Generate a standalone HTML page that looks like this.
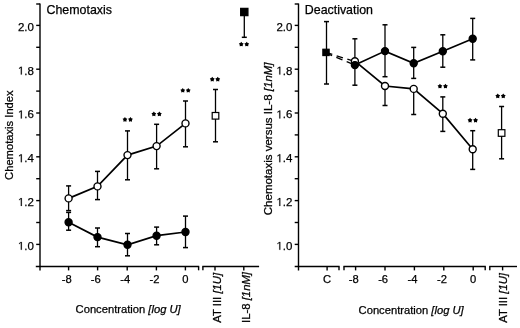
<!DOCTYPE html><html><head><meta charset="utf-8"><style>html,body{margin:0;padding:0;background:#fff;width:520px;height:328px;overflow:hidden}svg{display:block;font-family:"Liberation Sans", sans-serif;filter:grayscale(1)} text{stroke:#000;stroke-width:0.25px;fill:#000}</style></head><body><svg width="520" height="328" viewBox="0 0 520 328"><rect width="520" height="328" fill="#fff"/><line x1="40.0" y1="3.6" x2="40.0" y2="270.4" stroke="#000" stroke-width="1.4"/><line x1="36.2" y1="4" x2="40.0" y2="4" stroke="#000" stroke-width="1.4"/><line x1="36.2" y1="47.30000000000002" x2="40.0" y2="47.30000000000002" stroke="#000" stroke-width="1.4"/><line x1="36.2" y1="91.1" x2="40.0" y2="91.1" stroke="#000" stroke-width="1.4"/><line x1="36.2" y1="134.9" x2="40.0" y2="134.9" stroke="#000" stroke-width="1.4"/><line x1="36.2" y1="178.7" x2="40.0" y2="178.7" stroke="#000" stroke-width="1.4"/><line x1="36.2" y1="222.5" x2="40.0" y2="222.5" stroke="#000" stroke-width="1.4"/><line x1="36.2" y1="25.4" x2="40.0" y2="25.4" stroke="#000" stroke-width="1.4"/><text x="33.9" y="30.799999999999997" text-anchor="end" font-size="11.5">2.0</text><line x1="36.2" y1="69.19999999999999" x2="40.0" y2="69.19999999999999" stroke="#000" stroke-width="1.4"/><text x="33.9" y="74.6" text-anchor="end" font-size="11.5">.8</text><path d="M20.80,74.60 L20.80,67.65 L19.02,68.93 L19.02,67.98 L20.89,66.69 L21.82,66.69 L21.82,74.60 Z" fill="#000" stroke="#000" stroke-width="0.15"/><line x1="36.2" y1="112.99999999999997" x2="40.0" y2="112.99999999999997" stroke="#000" stroke-width="1.4"/><text x="33.9" y="118.39999999999998" text-anchor="end" font-size="11.5">.6</text><path d="M20.80,118.40 L20.80,111.45 L19.02,112.73 L19.02,111.78 L20.89,110.49 L21.82,110.49 L21.82,118.40 Z" fill="#000" stroke="#000" stroke-width="0.15"/><line x1="36.2" y1="156.8" x2="40.0" y2="156.8" stroke="#000" stroke-width="1.4"/><text x="33.9" y="162.20000000000002" text-anchor="end" font-size="11.5">.4</text><path d="M20.80,162.20 L20.80,155.25 L19.02,156.53 L19.02,155.58 L20.89,154.29 L21.82,154.29 L21.82,162.20 Z" fill="#000" stroke="#000" stroke-width="0.15"/><line x1="36.2" y1="200.60000000000002" x2="40.0" y2="200.60000000000002" stroke="#000" stroke-width="1.4"/><text x="33.9" y="206.00000000000003" text-anchor="end" font-size="11.5">.2</text><path d="M20.80,206.00 L20.80,199.05 L19.02,200.33 L19.02,199.38 L20.89,198.09 L21.82,198.09 L21.82,206.00 Z" fill="#000" stroke="#000" stroke-width="0.15"/><line x1="36.2" y1="244.4" x2="40.0" y2="244.4" stroke="#000" stroke-width="1.4"/><text x="33.9" y="249.8" text-anchor="end" font-size="11.5">.0</text><path d="M20.80,249.80 L20.80,242.85 L19.02,244.13 L19.02,243.18 L20.89,241.89 L21.82,241.89 L21.82,249.80 Z" fill="#000" stroke="#000" stroke-width="0.15"/><line x1="35.8" y1="266.5" x2="199.2" y2="266.5" stroke="#000" stroke-width="1.4"/><line x1="198.6" y1="266.5" x2="198.6" y2="270.3" stroke="#000" stroke-width="1.4"/><line x1="68.6" y1="266.5" x2="68.6" y2="270.4" stroke="#000" stroke-width="1.4"/><line x1="97.6" y1="266.5" x2="97.6" y2="270.4" stroke="#000" stroke-width="1.4"/><line x1="127.2" y1="266.5" x2="127.2" y2="270.4" stroke="#000" stroke-width="1.4"/><line x1="156.4" y1="266.5" x2="156.4" y2="270.4" stroke="#000" stroke-width="1.4"/><line x1="185.4" y1="266.5" x2="185.4" y2="270.4" stroke="#000" stroke-width="1.4"/><line x1="202.3" y1="266.5" x2="259.1" y2="266.5" stroke="#000" stroke-width="1.4"/><line x1="202.9" y1="266.5" x2="202.9" y2="270.3" stroke="#000" stroke-width="1.4"/><line x1="215.0" y1="266.5" x2="215.0" y2="270.4" stroke="#000" stroke-width="1.4"/><line x1="243.8" y1="266.5" x2="243.8" y2="270.4" stroke="#000" stroke-width="1.4"/><text x="71.69999999999999" y="282.8" text-anchor="end" font-size="11.2">-8</text><text x="100.69999999999999" y="282.8" text-anchor="end" font-size="11.2">-6</text><text x="130.3" y="282.8" text-anchor="end" font-size="11.2">-4</text><text x="159.5" y="282.8" text-anchor="end" font-size="11.2">-2</text><text x="185.4" y="282.8" text-anchor="middle" font-size="11.2">0</text><text x="46.5" y="13.5" font-size="12.4">Chemotaxis</text><text x="75.6" y="313.1" font-size="11.2">Concentration <tspan font-style="italic">[log U]</tspan></text><text transform="translate(12.7,179.9) rotate(-90)" font-size="11.2">Chemotaxis Index</text><text transform="translate(220.9,322.7) rotate(-90)" font-size="11.3">AT III <tspan font-style="italic">[1U]</tspan></text><text transform="translate(250.0,322.9) rotate(-90)" font-size="11.3">IL-8 <tspan font-style="italic">[1nM]</tspan></text><line x1="68.6" y1="185.9" x2="68.6" y2="210.6" stroke="#000" stroke-width="1.3"/><line x1="66.1" y1="185.9" x2="71.1" y2="185.9" stroke="#000" stroke-width="1.5"/><line x1="66.1" y1="210.6" x2="71.1" y2="210.6" stroke="#000" stroke-width="1.5"/><line x1="97.5" y1="171.4" x2="97.5" y2="199.6" stroke="#000" stroke-width="1.3"/><line x1="95.0" y1="171.4" x2="100.0" y2="171.4" stroke="#000" stroke-width="1.5"/><line x1="95.0" y1="199.6" x2="100.0" y2="199.6" stroke="#000" stroke-width="1.5"/><line x1="127.5" y1="130.9" x2="127.5" y2="179.8" stroke="#000" stroke-width="1.3"/><line x1="125.0" y1="130.9" x2="130.0" y2="130.9" stroke="#000" stroke-width="1.5"/><line x1="125.0" y1="179.8" x2="130.0" y2="179.8" stroke="#000" stroke-width="1.5"/><line x1="156.6" y1="124.3" x2="156.6" y2="168.8" stroke="#000" stroke-width="1.3"/><line x1="154.1" y1="124.3" x2="159.1" y2="124.3" stroke="#000" stroke-width="1.5"/><line x1="154.1" y1="168.8" x2="159.1" y2="168.8" stroke="#000" stroke-width="1.5"/><line x1="185.5" y1="101" x2="185.5" y2="146.8" stroke="#000" stroke-width="1.3"/><line x1="183.0" y1="101" x2="188.0" y2="101" stroke="#000" stroke-width="1.5"/><line x1="183.0" y1="146.8" x2="188.0" y2="146.8" stroke="#000" stroke-width="1.5"/><line x1="68.6" y1="212.4" x2="68.6" y2="230.2" stroke="#000" stroke-width="1.3"/><line x1="66.1" y1="212.4" x2="71.1" y2="212.4" stroke="#000" stroke-width="1.5"/><line x1="66.1" y1="230.2" x2="71.1" y2="230.2" stroke="#000" stroke-width="1.5"/><line x1="97.5" y1="228" x2="97.5" y2="246.7" stroke="#000" stroke-width="1.3"/><line x1="95.0" y1="228" x2="100.0" y2="228" stroke="#000" stroke-width="1.5"/><line x1="95.0" y1="246.7" x2="100.0" y2="246.7" stroke="#000" stroke-width="1.5"/><line x1="127.5" y1="233.5" x2="127.5" y2="255.8" stroke="#000" stroke-width="1.3"/><line x1="125.0" y1="233.5" x2="130.0" y2="233.5" stroke="#000" stroke-width="1.5"/><line x1="125.0" y1="255.8" x2="130.0" y2="255.8" stroke="#000" stroke-width="1.5"/><line x1="156.6" y1="227.1" x2="156.6" y2="244.8" stroke="#000" stroke-width="1.3"/><line x1="154.1" y1="227.1" x2="159.1" y2="227.1" stroke="#000" stroke-width="1.5"/><line x1="154.1" y1="244.8" x2="159.1" y2="244.8" stroke="#000" stroke-width="1.5"/><line x1="185.5" y1="216.1" x2="185.5" y2="247.6" stroke="#000" stroke-width="1.3"/><line x1="183.0" y1="216.1" x2="188.0" y2="216.1" stroke="#000" stroke-width="1.5"/><line x1="183.0" y1="247.6" x2="188.0" y2="247.6" stroke="#000" stroke-width="1.5"/><polyline points="68.6,198.4 97.5,186.4 127.5,155.1 156.6,146.1 185.5,123.4" fill="none" stroke="#000" stroke-width="1.7"/><polyline points="68.6,222.3 97.5,237.1 127.5,244.8 156.6,235.7 185.5,232" fill="none" stroke="#000" stroke-width="1.7"/><circle cx="68.6" cy="198.4" r="3.5" fill="#fff" stroke="#000" stroke-width="1.4"/><circle cx="97.5" cy="186.4" r="3.5" fill="#fff" stroke="#000" stroke-width="1.4"/><circle cx="127.5" cy="155.1" r="3.5" fill="#fff" stroke="#000" stroke-width="1.4"/><circle cx="156.6" cy="146.1" r="3.5" fill="#fff" stroke="#000" stroke-width="1.4"/><circle cx="185.5" cy="123.4" r="3.5" fill="#fff" stroke="#000" stroke-width="1.4"/><circle cx="68.6" cy="222.3" r="3.5" fill="#000" stroke="#000" stroke-width="1.4"/><circle cx="97.5" cy="237.1" r="3.5" fill="#000" stroke="#000" stroke-width="1.4"/><circle cx="127.5" cy="244.8" r="3.5" fill="#000" stroke="#000" stroke-width="1.4"/><circle cx="156.6" cy="235.7" r="3.5" fill="#000" stroke="#000" stroke-width="1.4"/><circle cx="185.5" cy="232" r="3.5" fill="#000" stroke="#000" stroke-width="1.4"/><line x1="215.5" y1="89.5" x2="215.5" y2="141.8" stroke="#000" stroke-width="1.3"/><line x1="213.0" y1="89.5" x2="218.0" y2="89.5" stroke="#000" stroke-width="1.5"/><line x1="213.0" y1="141.8" x2="218.0" y2="141.8" stroke="#000" stroke-width="1.5"/><rect x="212.2" y="112.5" width="6.6" height="6.6" fill="#fff" stroke="#000" stroke-width="1.2"/><line x1="244.3" y1="12" x2="244.3" y2="37.3" stroke="#000" stroke-width="1.3"/><line x1="241.8" y1="37.3" x2="246.8" y2="37.3" stroke="#000" stroke-width="1.5"/><rect x="240.65" y="8.35" width="7.3" height="7.3" fill="#000" stroke="#000" stroke-width="1.2"/><polygon points="124.95,117.05 125.88,118.32 127.38,118.81 126.45,120.09 126.45,121.66 124.95,121.18 123.45,121.66 123.45,120.09 122.52,118.81 124.02,118.32" fill="#000"/><polygon points="130.45,117.05 131.38,118.32 132.88,118.81 131.95,120.09 131.95,121.66 130.45,121.18 128.95,121.66 128.95,120.09 128.02,118.81 129.52,118.32" fill="#000"/><polygon points="153.85,111.55 154.78,112.82 156.28,113.31 155.35,114.59 155.35,116.16 153.85,115.68 152.35,116.16 152.35,114.59 151.42,113.31 152.92,112.82" fill="#000"/><polygon points="159.35,111.55 160.28,112.82 161.78,113.31 160.85,114.59 160.85,116.16 159.35,115.68 157.85,116.16 157.85,114.59 156.92,113.31 158.42,112.82" fill="#000"/><polygon points="182.75,87.95 183.68,89.22 185.18,89.71 184.25,90.99 184.25,92.56 182.75,92.08 181.25,92.56 181.25,90.99 180.32,89.71 181.82,89.22" fill="#000"/><polygon points="188.25,87.95 189.18,89.22 190.68,89.71 189.75,90.99 189.75,92.56 188.25,92.08 186.75,92.56 186.75,90.99 185.82,89.71 187.32,89.22" fill="#000"/><polygon points="212.25,76.85 213.18,78.12 214.68,78.61 213.75,79.89 213.75,81.46 212.25,80.98 210.75,81.46 210.75,79.89 209.82,78.61 211.32,78.12" fill="#000"/><polygon points="217.75,76.85 218.68,78.12 220.18,78.61 219.25,79.89 219.25,81.46 217.75,80.98 216.25,81.46 216.25,79.89 215.32,78.61 216.82,78.12" fill="#000"/><polygon points="241.25,41.75 242.18,43.02 243.68,43.51 242.75,44.79 242.75,46.36 241.25,45.88 239.75,46.36 239.75,44.79 238.82,43.51 240.32,43.02" fill="#000"/><polygon points="246.75,41.75 247.68,43.02 249.18,43.51 248.25,44.79 248.25,46.36 246.75,45.88 245.25,46.36 245.25,44.79 244.32,43.51 245.82,43.02" fill="#000"/><line x1="298.5" y1="3.6" x2="298.5" y2="270.4" stroke="#000" stroke-width="1.4"/><line x1="294.7" y1="4" x2="298.5" y2="4" stroke="#000" stroke-width="1.4"/><line x1="294.7" y1="47.30000000000002" x2="298.5" y2="47.30000000000002" stroke="#000" stroke-width="1.4"/><line x1="294.7" y1="91.1" x2="298.5" y2="91.1" stroke="#000" stroke-width="1.4"/><line x1="294.7" y1="134.9" x2="298.5" y2="134.9" stroke="#000" stroke-width="1.4"/><line x1="294.7" y1="178.7" x2="298.5" y2="178.7" stroke="#000" stroke-width="1.4"/><line x1="294.7" y1="222.5" x2="298.5" y2="222.5" stroke="#000" stroke-width="1.4"/><line x1="294.7" y1="25.4" x2="298.5" y2="25.4" stroke="#000" stroke-width="1.4"/><text x="292.4" y="30.799999999999997" text-anchor="end" font-size="11.5">2.0</text><line x1="294.7" y1="69.19999999999999" x2="298.5" y2="69.19999999999999" stroke="#000" stroke-width="1.4"/><text x="292.4" y="74.6" text-anchor="end" font-size="11.5">.8</text><path d="M279.30,74.60 L279.30,67.65 L277.52,68.93 L277.52,67.98 L279.39,66.69 L280.32,66.69 L280.32,74.60 Z" fill="#000" stroke="#000" stroke-width="0.15"/><line x1="294.7" y1="112.99999999999997" x2="298.5" y2="112.99999999999997" stroke="#000" stroke-width="1.4"/><text x="292.4" y="118.39999999999998" text-anchor="end" font-size="11.5">.6</text><path d="M279.30,118.40 L279.30,111.45 L277.52,112.73 L277.52,111.78 L279.39,110.49 L280.32,110.49 L280.32,118.40 Z" fill="#000" stroke="#000" stroke-width="0.15"/><line x1="294.7" y1="156.8" x2="298.5" y2="156.8" stroke="#000" stroke-width="1.4"/><text x="292.4" y="162.20000000000002" text-anchor="end" font-size="11.5">.4</text><path d="M279.30,162.20 L279.30,155.25 L277.52,156.53 L277.52,155.58 L279.39,154.29 L280.32,154.29 L280.32,162.20 Z" fill="#000" stroke="#000" stroke-width="0.15"/><line x1="294.7" y1="200.60000000000002" x2="298.5" y2="200.60000000000002" stroke="#000" stroke-width="1.4"/><text x="292.4" y="206.00000000000003" text-anchor="end" font-size="11.5">.2</text><path d="M279.30,206.00 L279.30,199.05 L277.52,200.33 L277.52,199.38 L279.39,198.09 L280.32,198.09 L280.32,206.00 Z" fill="#000" stroke="#000" stroke-width="0.15"/><line x1="294.7" y1="244.4" x2="298.5" y2="244.4" stroke="#000" stroke-width="1.4"/><text x="292.4" y="249.8" text-anchor="end" font-size="11.5">.0</text><path d="M279.30,249.80 L279.30,242.85 L277.52,244.13 L277.52,243.18 L279.39,241.89 L280.32,241.89 L280.32,249.80 Z" fill="#000" stroke="#000" stroke-width="0.15"/><line x1="294.7" y1="266.5" x2="339.6" y2="266.5" stroke="#000" stroke-width="1.4"/><line x1="339.0" y1="266.5" x2="339.0" y2="270.3" stroke="#000" stroke-width="1.4"/><line x1="327.1" y1="266.5" x2="327.1" y2="270.4" stroke="#000" stroke-width="1.4"/><line x1="343.4" y1="266.5" x2="485.8" y2="266.5" stroke="#000" stroke-width="1.4"/><line x1="344.0" y1="266.5" x2="344.0" y2="270.3" stroke="#000" stroke-width="1.4"/><line x1="485.2" y1="266.5" x2="485.2" y2="270.3" stroke="#000" stroke-width="1.4"/><line x1="355.6" y1="266.5" x2="355.6" y2="270.4" stroke="#000" stroke-width="1.4"/><line x1="385.0" y1="266.5" x2="385.0" y2="270.4" stroke="#000" stroke-width="1.4"/><line x1="414.4" y1="266.5" x2="414.4" y2="270.4" stroke="#000" stroke-width="1.4"/><line x1="443.8" y1="266.5" x2="443.8" y2="270.4" stroke="#000" stroke-width="1.4"/><line x1="473.2" y1="266.5" x2="473.2" y2="270.4" stroke="#000" stroke-width="1.4"/><line x1="489.2" y1="266.5" x2="517.0" y2="266.5" stroke="#000" stroke-width="1.4"/><line x1="489.8" y1="266.5" x2="489.8" y2="270.3" stroke="#000" stroke-width="1.4"/><line x1="502.6" y1="266.5" x2="502.6" y2="270.4" stroke="#000" stroke-width="1.4"/><text x="327.0" y="282.8" text-anchor="middle" font-size="11.2">C</text><text x="358.70000000000005" y="282.8" text-anchor="end" font-size="11.2">-8</text><text x="388.1" y="282.8" text-anchor="end" font-size="11.2">-6</text><text x="417.5" y="282.8" text-anchor="end" font-size="11.2">-4</text><text x="446.90000000000003" y="282.8" text-anchor="end" font-size="11.2">-2</text><text x="473.2" y="282.8" text-anchor="middle" font-size="11.2">0</text><text x="304.8" y="13.5" font-size="12.4">Deactivation</text><text x="358.6" y="314.3" font-size="11.2">Concentration <tspan font-style="italic">[log U]</tspan></text><text transform="translate(272.3,215.2) rotate(-90)" font-size="11.5">Chemotaxis versus IL-8 <tspan font-style="italic">[1nM]</tspan></text><text transform="translate(507.4,322.8) rotate(-90)" font-size="11.3">AT III <tspan font-style="italic">[1U]</tspan></text><line x1="326.5" y1="21.6" x2="326.5" y2="84" stroke="#000" stroke-width="1.3"/><line x1="324.0" y1="21.6" x2="329.0" y2="21.6" stroke="#000" stroke-width="1.5"/><line x1="324.0" y1="84" x2="329.0" y2="84" stroke="#000" stroke-width="1.5"/><line x1="354.9" y1="38.8" x2="354.9" y2="85.2" stroke="#000" stroke-width="1.3"/><line x1="352.4" y1="38.8" x2="357.4" y2="38.8" stroke="#000" stroke-width="1.5"/><line x1="352.4" y1="85.2" x2="357.4" y2="85.2" stroke="#000" stroke-width="1.5"/><line x1="385.0" y1="24.8" x2="385.0" y2="76.7" stroke="#000" stroke-width="1.3"/><line x1="382.5" y1="24.8" x2="387.5" y2="24.8" stroke="#000" stroke-width="1.5"/><line x1="382.5" y1="76.7" x2="387.5" y2="76.7" stroke="#000" stroke-width="1.5"/><line x1="413.7" y1="47.4" x2="413.7" y2="78.4" stroke="#000" stroke-width="1.3"/><line x1="411.2" y1="47.4" x2="416.2" y2="47.4" stroke="#000" stroke-width="1.5"/><line x1="411.2" y1="78.4" x2="416.2" y2="78.4" stroke="#000" stroke-width="1.5"/><line x1="442.8" y1="34.8" x2="442.8" y2="67.2" stroke="#000" stroke-width="1.3"/><line x1="440.3" y1="34.8" x2="445.3" y2="34.8" stroke="#000" stroke-width="1.5"/><line x1="440.3" y1="67.2" x2="445.3" y2="67.2" stroke="#000" stroke-width="1.5"/><line x1="472.7" y1="18.4" x2="472.7" y2="59.9" stroke="#000" stroke-width="1.3"/><line x1="470.2" y1="18.4" x2="475.2" y2="18.4" stroke="#000" stroke-width="1.5"/><line x1="470.2" y1="59.9" x2="475.2" y2="59.9" stroke="#000" stroke-width="1.5"/><line x1="385.0" y1="86" x2="385.0" y2="105.5" stroke="#000" stroke-width="1.3"/><line x1="382.5" y1="105.5" x2="387.5" y2="105.5" stroke="#000" stroke-width="1.5"/><line x1="413.7" y1="88.9" x2="413.7" y2="114.5" stroke="#000" stroke-width="1.3"/><line x1="411.2" y1="114.5" x2="416.2" y2="114.5" stroke="#000" stroke-width="1.5"/><line x1="442.8" y1="96.9" x2="442.8" y2="131.4" stroke="#000" stroke-width="1.3"/><line x1="440.3" y1="96.9" x2="445.3" y2="96.9" stroke="#000" stroke-width="1.5"/><line x1="440.3" y1="131.4" x2="445.3" y2="131.4" stroke="#000" stroke-width="1.5"/><line x1="472.7" y1="130.7" x2="472.7" y2="169.4" stroke="#000" stroke-width="1.3"/><line x1="470.2" y1="130.7" x2="475.2" y2="130.7" stroke="#000" stroke-width="1.5"/><line x1="470.2" y1="169.4" x2="475.2" y2="169.4" stroke="#000" stroke-width="1.5"/><g stroke="#000" stroke-width="1.3" stroke-dasharray="6.6,4.6"><line x1="326" y1="52.4" x2="354.9" y2="61.6"/><line x1="326" y1="53" x2="354.9" y2="65.1"/></g><polyline points="354.9,65.1 385.0,51.1 413.7,63.3 442.8,51.3 472.7,38.7" fill="none" stroke="#000" stroke-width="1.7"/><polyline points="354.9,61.2 385.0,86 413.7,88.9 442.8,113.7 472.7,149.3" fill="none" stroke="#000" stroke-width="1.7"/><rect x="322.85" y="49.25" width="6.3" height="6.3" fill="#000" stroke="#000" stroke-width="1.2"/><circle cx="354.9" cy="61.2" r="3.5" fill="#fff" stroke="#000" stroke-width="1.4"/><circle cx="385.0" cy="86" r="3.5" fill="#fff" stroke="#000" stroke-width="1.4"/><circle cx="413.7" cy="88.9" r="3.5" fill="#fff" stroke="#000" stroke-width="1.4"/><circle cx="442.8" cy="113.7" r="3.5" fill="#fff" stroke="#000" stroke-width="1.4"/><circle cx="472.7" cy="149.3" r="3.5" fill="#fff" stroke="#000" stroke-width="1.4"/><circle cx="354.9" cy="65.1" r="3.5" fill="#000" stroke="#000" stroke-width="1.4"/><circle cx="385.0" cy="51.1" r="3.5" fill="#000" stroke="#000" stroke-width="1.4"/><circle cx="413.7" cy="63.3" r="3.5" fill="#000" stroke="#000" stroke-width="1.4"/><circle cx="442.8" cy="51.3" r="3.5" fill="#000" stroke="#000" stroke-width="1.4"/><circle cx="472.7" cy="38.7" r="3.5" fill="#000" stroke="#000" stroke-width="1.4"/><line x1="501.6" y1="106.5" x2="501.6" y2="158.8" stroke="#000" stroke-width="1.3"/><line x1="499.1" y1="106.5" x2="504.1" y2="106.5" stroke="#000" stroke-width="1.5"/><line x1="499.1" y1="158.8" x2="504.1" y2="158.8" stroke="#000" stroke-width="1.5"/><rect x="498.3" y="129.7" width="6.6" height="6.6" fill="#fff" stroke="#000" stroke-width="1.2"/><polygon points="439.95,83.75 440.88,85.02 442.38,85.51 441.45,86.79 441.45,88.36 439.95,87.88 438.45,88.36 438.45,86.79 437.52,85.51 439.02,85.02" fill="#000"/><polygon points="445.45,83.75 446.38,85.02 447.88,85.51 446.95,86.79 446.95,88.36 445.45,87.88 443.95,88.36 443.95,86.79 443.02,85.51 444.52,85.02" fill="#000"/><polygon points="470.05,117.85 470.98,119.12 472.48,119.61 471.55,120.89 471.55,122.46 470.05,121.98 468.55,122.46 468.55,120.89 467.62,119.61 469.12,119.12" fill="#000"/><polygon points="475.55,117.85 476.48,119.12 477.98,119.61 477.05,120.89 477.05,122.46 475.55,121.98 474.05,122.46 474.05,120.89 473.12,119.61 474.62,119.12" fill="#000"/><polygon points="497.75,93.55 498.68,94.82 500.18,95.31 499.25,96.59 499.25,98.16 497.75,97.68 496.25,98.16 496.25,96.59 495.32,95.31 496.82,94.82" fill="#000"/><polygon points="503.25,93.55 504.18,94.82 505.68,95.31 504.75,96.59 504.75,98.16 503.25,97.68 501.75,98.16 501.75,96.59 500.82,95.31 502.32,94.82" fill="#000"/></svg></body></html>
